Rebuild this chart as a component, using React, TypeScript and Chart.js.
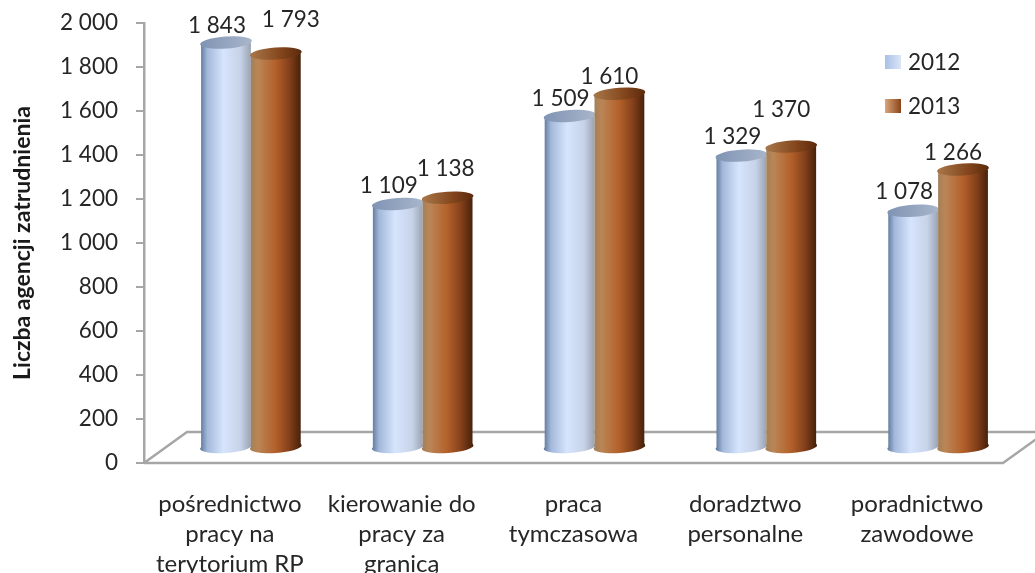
import React, { useEffect, useRef } from "react";
import { Chart, registerables } from "chart.js";

Chart.register(...registerables);

const categories = [
  ["pośrednictwo", "pracy na", "terytorium RP"],
  ["kierowanie do", "pracy za", "granicą"],
  ["praca", "tymczasowa"],
  ["doradztwo", "personalne"],
  ["poradnictwo", "zawodowe"],
];
const seriesLabels = ["2012", "2013"];
const values2012 = [1843, 1109, 1509, 1329, 1078];
const values2013 = [1793, 1138, 1610, 1370, 1266];

const FONT = "Lato, 'Open Sans', sans-serif";
const TEXT = "#262626";
const AXIS = "#a6a6a6";
const DX = 21;
const DY = -15;
const RY = 6;
const TILT = -0.07;

const bodyStops = [
  [[0, "#5b7598"], [0.14, "#a3b8da"], [0.45, "#d6e5fd"], [0.78, "#c6d2e7"], [1, "#969fae"]],
  [[0, "#a0805a"], [0.16, "#bb8556"], [0.5, "#b3602a"], [0.76, "#84401a"], [1, "#431f09"]],
] as [number, string][][];
const capStops = [
  [[0, "#7f93b3"], [1, "#a9b6cb"]],
  [[0, "#a8784a"], [0.6, "#83451c"], [1, "#5a2a0c"]],
] as [number, string][][];
const labelOffsets = [
  [[-9, -18], [-9, -19], [-9, -18], [-9, -20], [-9, -20]],
  [[15, -35], [-2, -30], [-10, -18], [-10, -38], [-10, -18]],
];

const thousands = (v: number) =>
  v >= 1000 ? `${Math.floor(v / 1000)} ${String(v % 1000).padStart(3, "0")}` : String(v);

function hGrad(ctx: CanvasRenderingContext2D, x0: number, x1: number, stops: [number, string][]) {
  const g = ctx.createLinearGradient(x0, 0, x1, 0);
  stops.forEach(([o, c]) => g.addColorStop(o, c));
  return g;
}

const cylinders = {
  id: "cylinders",
  afterDatasetsUpdate(chart: any) {
    chart.data.datasets.forEach((_: any, d: number) => {
      chart.getDatasetMeta(d).data.forEach((el: any) => {
        const r = el.width / 2 + 1;
        el.options = {
          ...el.options,
          backgroundColor: hGrad(chart.ctx, el.x - r, el.x + r, bodyStops[d]),
        };
      });
    });
  },
  beforeDatasetsDraw(chart: any) {
    const { ctx, chartArea: a } = chart;
    const back = 43;
    const rise = 31;
    ctx.save();
    ctx.strokeStyle = AXIS;
    ctx.lineWidth = 2.5;
    ctx.beginPath();
    ctx.moveTo(a.left, a.bottom);
    ctx.lineTo(a.left + back, a.bottom - rise);
    ctx.lineTo(a.right + back, a.bottom - rise);
    ctx.lineTo(a.right, a.bottom);
    ctx.lineTo(a.left, a.bottom);
    ctx.stroke();
    ctx.restore();
  },
  beforeDatasetDraw() {
    return false;
  },
  afterDatasetsDraw(chart: any) {
    const { ctx } = chart;
    chart.data.datasets.forEach((ds: any, d: number) => {
      const meta = chart.getDatasetMeta(d);
      ctx.save();
      ctx.translate(DX, DY);
      meta.data.forEach((el: any) => {
        const r = el.width / 2 + 1;
        ctx.fillStyle = hGrad(ctx, el.x - r, el.x + r, bodyStops[d]);
        ctx.beginPath();
        ctx.ellipse(el.x, el.base, r, RY, TILT, 0, Math.PI * 2);
        ctx.fill();
      });
      meta.controller.draw();
      meta.data.forEach((el: any) => {
        const r = el.width / 2 + 1;
        ctx.fillStyle = hGrad(ctx, el.x - r, el.x + r, capStops[d]);
        ctx.beginPath();
        ctx.ellipse(el.x, el.y, r, RY, TILT, 0, Math.PI * 2);
        ctx.fill();
      });
      ctx.restore();
    });

    ctx.save();
    ctx.font = `22.5px ${FONT}`;
    ctx.fillStyle = TEXT;
    ctx.textAlign = "center";
    ctx.textBaseline = "middle";
    chart.data.datasets.forEach((ds: any, d: number) => {
      chart.getDatasetMeta(d).data.forEach((el: any, i: number) => {
        const [ox, oy] = labelOffsets[d][i];
        ctx.fillText(thousands(ds.data[i]), el.x + DX + ox, el.y + DY + oy + 1);
      });
    });
    // legend
    const a = chart.chartArea;
    const lx = a.right - 118;
    chart.data.datasets.forEach((ds: any, d: number) => {
      const cy = a.top + 39 + d * 44;
      ctx.fillStyle = hGrad(ctx, lx, lx + 16, d === 0
        ? [[0, "#a9bfe6"], [1, "#dbe6f7"]]
        : [[0, "#d9a67c"], [1, "#8a4418"]]);
      ctx.fillRect(lx, cy - 7, 16, 14);
      ctx.fillStyle = TEXT;
      ctx.textAlign = "left";
      ctx.fillText(ds.label, lx + 23, cy + 1);
    });
    ctx.restore();
  },
};

export default function App() {
  const ref = useRef<HTMLCanvasElement>(null);
  useEffect(() => {
    document.body.style.margin = "0";
    const chart = new Chart(ref.current!, {
      type: "bar",
      data: {
        labels: categories as any,
        datasets: [
          { label: seriesLabels[0], data: values2012, backgroundColor: "#c6d6f2", inflateAmount: 0 },
          { label: seriesLabels[1], data: values2013, backgroundColor: "#b3602a", inflateAmount: 0 },
        ] as any,
      },
      options: {
        animation: false,
        responsive: false,
        layout: { padding: { top: 23, right: 32, left: 0, bottom: 0 } },
        datasets: { bar: { categoryPercentage: 0.58, barPercentage: 1 } },
        plugins: { legend: { display: false }, tooltip: { enabled: false } },
        scales: {
          x: {
            grid: { display: false },
            border: { display: false },
            ticks: {
              color: TEXT,
              font: { family: FONT, size: 24, lineHeight: "30px" },
              padding: 18,
              maxRotation: 0,
              autoSkip: false,
            },
            afterFit(s: any) {
              s.height = 110;
            },
          },
          y: {
            min: 0,
            max: 2000,
            grid: {
              drawOnChartArea: false,
              color: AXIS,
              lineWidth: 2,
              tickLength: 8,
            },
            border: { color: AXIS, width: 2.5 },
            title: {
              display: true,
              text: "Liczba agencji zatrudnienia",
              color: "#1a1a1a",
              font: { family: FONT, size: 23, weight: "bold" },
              padding: { top: 9, bottom: 0 },
            },
            ticks: {
              stepSize: 200,
              color: TEXT,
              font: { family: FONT, size: 22.5 },
              padding: 18,
              callback: (v: any) => thousands(Number(v)),
            },
            afterFit(s: any) {
              s.width = 144;
              s.paddingTop = 0;
              s.paddingBottom = 0;
            },
          },
        },
      },
      plugins: [cylinders],
    } as any);
    return () => chart.destroy();
  }, []);
  return (
    <div style={{ position: "absolute", left: 0, top: 0, width: 1035, height: 573, overflow: "hidden", background: "#fff" }}>
      <canvas ref={ref} width={1035} height={573} style={{ display: "block", filter: "blur(0.45px)" }} />
    </div>
  );
}
